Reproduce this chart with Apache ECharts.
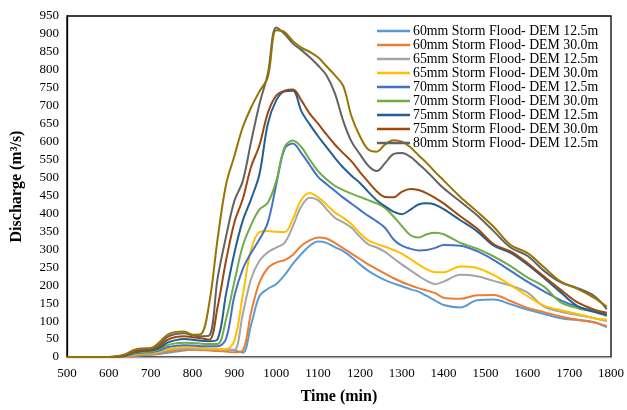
<!DOCTYPE html>
<html>
<head>
<meta charset="utf-8">
<script src="https://cdn.jsdelivr.net/npm/echarts@6/dist/echarts.min.js"></script>
<style>
  html, body { margin: 0; padding: 0; background: #fff; }
  #chart { width: 627px; height: 410px; }
</style>
</head>
<body>
<div id="chart"></div>
<script>
// Time steps (min)
const timeMin = [500, 600, 620, 640, 660, 680, 700, 720, 740, 760, 780, 800, 820, 840, 860, 880, 900, 920, 940, 960, 980, 1000, 1020, 1040, 1060, 1080, 1100, 1120, 1140, 1160, 1180, 1200, 1220, 1240, 1260, 1280, 1300, 1320, 1340, 1360, 1380, 1400, 1440, 1480, 1520, 1560, 1600, 1640, 1680, 1720, 1760, 1790];

// Discharge (m3/s) per storm / DEM resolution
const q60_125 = [0, 0, 0, 0, 2, 5, 6, 8, 12, 15, 18, 20, 21, 22, 22, 21, 19, 12, 90, 170, 190, 203, 228, 260, 287, 310, 322, 318, 306, 295, 278, 258, 240, 226, 214, 205, 197, 189, 182, 170, 157, 145, 138, 158, 160, 147, 132, 120, 108, 103, 97, 83];
const q60_300 = [0, 0, 0, 0, 3, 6, 7, 10, 15, 18, 20, 20, 19, 18, 17, 15, 13, 18, 125, 208, 248, 263, 270, 285, 310, 325, 333, 330, 318, 303, 288, 273, 258, 245, 232, 220, 209, 200, 192, 185, 178, 165, 162, 172, 173, 156, 137, 125, 113, 104, 96, 86];
const q65_125 = [0, 0, 0, 1, 6, 9, 9, 13, 19, 22, 24, 23, 22, 21, 21, 20, 20, 120, 218, 268, 292, 305, 318, 365, 420, 444, 437, 412, 388, 375, 360, 335, 314, 305, 293, 275, 258, 242, 226, 212, 203, 210, 229, 225, 212, 199, 180, 140, 126, 117, 108, 100];
const q65_300 = [0, 0, 0, 1, 7, 10, 11, 15, 22, 25, 27, 27, 25, 24, 23, 22, 45, 172, 300, 348, 351, 349, 348, 385, 438, 457, 445, 425, 403, 388, 370, 345, 325, 315, 307, 298, 288, 273, 258, 244, 236, 236, 252, 248, 228, 200, 170, 143, 130, 120, 108, 104];
const q70_125 = [0, 0, 0, 2, 9, 12, 13, 18, 27, 31, 33, 32, 30, 30, 30, 50, 170, 245, 290, 328, 375, 480, 580, 595, 568, 535, 502, 482, 463, 444, 427, 410, 393, 378, 360, 328, 310, 302, 297, 298, 304, 312, 310, 295, 270, 240, 210, 183, 158, 140, 128, 118];
const q70_300 = [0, 0, 0, 3, 11, 14, 15, 22, 33, 38, 40, 39, 37, 36, 36, 105, 210, 310, 368, 411, 430, 490, 585, 603, 585, 550, 518, 495, 477, 465, 455, 446, 437, 428, 415, 392, 365, 340, 333, 342, 346, 342, 318, 302, 280, 253, 222, 196, 152, 136, 126, 114];
const q75_125 = [0, 0, 1, 4, 13, 17, 18, 25, 40, 47, 50, 48, 45, 44, 50, 175, 290, 380, 440, 510, 650, 715, 740, 742, 685, 648, 615, 585, 555, 528, 505, 485, 460, 437, 420, 405, 398, 410, 425, 428, 424, 412, 381, 350, 310, 290, 258, 220, 180, 142, 126, 117];
const q75_300 = [0, 0, 1, 5, 15, 19, 20, 30, 48, 56, 58, 55, 52, 48, 140, 268, 375, 440, 530, 590, 680, 728, 742, 745, 715, 678, 650, 620, 592, 568, 545, 515, 488, 462, 446, 445, 460, 468, 465, 456, 443, 428, 392, 358, 314, 294, 262, 224, 187, 152, 132, 123];
const q80_125 = [0, 0, 2, 7, 18, 22, 23, 36, 56, 64, 66, 60, 58, 60, 220, 335, 435, 490, 600, 705, 790, 918, 900, 873, 855, 835, 812, 785, 735, 658, 600, 565, 533, 518, 540, 565, 568, 558, 538, 517, 493, 470, 433, 395, 350, 305, 282, 240, 208, 192, 170, 133];
const q80_300 = [0, 0, 2, 8, 20, 24, 25, 40, 62, 70, 71, 62, 64, 150, 330, 480, 560, 640, 695, 740, 780, 910, 905, 880, 862, 850, 835, 810, 785, 755, 670, 615, 578, 572, 592, 604, 600, 585, 562, 540, 515, 492, 446, 405, 362, 312, 290, 250, 210, 190, 165, 140];

// Axis ticks
const yTicks = { min: 0, max: 950, step: 50 };
const xTicks = { min: 500, max: 1800, step: 100 };

const seriesDefs = [
  { name: '60mm Storm Flood- DEM 12.5m', values: q60_125, color: '#5B9BD5' },
  { name: '60mm Storm Flood- DEM 30.0m', values: q60_300, color: '#ED7D31' },
  { name: '65mm Storm Flood- DEM 12.5m', values: q65_125, color: '#A5A5A5' },
  { name: '65mm Storm Flood- DEM 30.0m', values: q65_300, color: '#FFC000' },
  { name: '70mm Storm Flood- DEM 12.5m', values: q70_125, color: '#4472C4' },
  { name: '70mm Storm Flood- DEM 30.0m', values: q70_300, color: '#70AD47' },
  { name: '75mm Storm Flood- DEM 12.5m', values: q75_125, color: '#255E91' },
  { name: '75mm Storm Flood- DEM 30.0m', values: q75_300, color: '#9E480E' },
  { name: '80mm Storm Flood- DEM 12.5m', values: q80_125, color: '#636363' },
  { name: '80mm Storm Flood- DEM 30.0m', values: q80_300, color: '#997300' }
];

const serif = '"Liberation Serif", "Times New Roman", serif';

const chart = echarts.init(document.getElementById('chart'), null, { renderer: 'canvas' });

chart.setOption({
  animation: false,
  backgroundColor: '#fff',
  grid: {
    left: 67, right: 15, top: 16, bottom: 52,
    show: true, borderColor: '#000', borderWidth: 1.3, backgroundColor: 'transparent'
  },
  legend: {
    orient: 'vertical',
    left: 377, top: 24,
    itemWidth: 33, itemHeight: 2.5, itemGap: 0,
    icon: 'rect',
    padding: [0, 4, 0, 0],
    textStyle: { fontFamily: serif, fontSize: 13.8, color: '#000', lineHeight: 11.8, padding: [0, 0, 0, -2] },
    data: seriesDefs.slice(0, 9).map(s => s.name)
  },
  xAxis: {
    type: 'value',
    min: xTicks.min, max: xTicks.max, interval: xTicks.step,
    name: 'Time (min)',
    nameLocation: 'middle', nameGap: 32,
    nameTextStyle: { fontFamily: serif, fontSize: 16, fontWeight: 'bold', color: '#000' },
    axisLine: { show: true, lineStyle: { color: '#A6A6A6', width: 1.3 } },
    axisTick: { show: false },
    splitLine: { show: false },
    axisLabel: { fontFamily: serif, fontSize: 13, color: '#000', margin: 10, formatter: v => String(v) }
  },
  yAxis: {
    type: 'value',
    min: yTicks.min, max: yTicks.max, interval: yTicks.step,
    name: 'Discharge (m³/s)',
    nameLocation: 'middle', nameGap: 42,
    nameTextStyle: { fontFamily: serif, fontSize: 16, fontWeight: 'bold', color: '#000' },
    axisLine: { show: true, lineStyle: { color: '#000', width: 1.3 } },
    axisTick: { show: false },
    splitLine: { show: false },
    axisLabel: { fontFamily: serif, fontSize: 13, color: '#000', margin: 8, formatter: v => String(v) }
  },
  series: seriesDefs.map(s => ({
    name: s.name,
    type: 'line',
    smooth: 0.35,
    symbol: 'none',
    lineStyle: { width: 2, color: s.color },
    itemStyle: { color: s.color },
    data: timeMin.map((t, i) => [t, s.values[i]])
  }))
});
</script>
</body>
</html>
